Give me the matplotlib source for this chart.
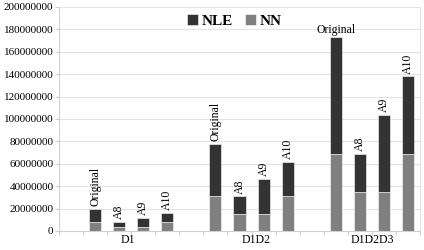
import matplotlib
matplotlib.use("Agg")
import matplotlib.pyplot as plt
import numpy as np

# ---- data ----
groups = ["D1", "D1D2", "D1D2D3"]
variants = ["Original", "A8", "A9", "A10"]
nn_values = [8e6, 4e6, 4e6, 8e6,
             31e6, 15.5e6, 15.5e6, 31e6,
             69e6, 34.5e6, 34.5e6, 69e6]
nle_values = [12e6, 4e6, 8e6, 8e6,
              46.5e6, 15.5e6, 31e6, 31e6,
              104e6, 34.5e6, 69e6, 69e6]
bar_labels = variants * 3
y_ticks = list(range(0, 200000001, 20000000))

# ---- layout / style ----
slots = [1, 2, 3, 4, 6, 7, 8, 9, 11, 12, 13, 14]   # slot index of each bar
group_label_pos = [2.85, 8.2, 13.0]
label_rot = [90] * 8 + [0, 90, 90, 90]
c_nle = "#333333"
c_nn = "#808080"
grid_c = "#e3e3e3"
font = "Liberation Serif"

plt.rcParams["font.family"] = [font, "DejaVu Serif"]

fig = plt.figure(figsize=(4.24, 2.5), dpi=100)
ax = fig.add_axes([59 / 424, 1 - 231 / 250, (420 - 59) / 424, (231 - 7) / 250])

x = np.array(slots) + 0.5
nn = np.array(nn_values)
nle = np.array(nle_values)
ax.bar(x, nn, width=0.5, color=c_nn, edgecolor="white", linewidth=0.4, label="NN", zorder=2)
ax.bar(x, nle, width=0.5, bottom=nn, color=c_nle, edgecolor="white", linewidth=0.4, label="NLE", zorder=2)

total = nn + nle
for xi, t, lab, rot in zip(x, total, bar_labels, label_rot):
    if rot == 90:
        ax.annotate(lab, (xi, t), xytext=(0, 2), textcoords="offset points",
                    rotation=90, ha="center", va="bottom", fontsize=8.5)
    else:
        ax.annotate(lab, (xi, t), xytext=(0, 1), textcoords="offset points",
                    ha="center", va="bottom", fontsize=8.5)

ax.set_xlim(0, 15)
ax.set_ylim(0, 200000000)
ax.set_yticks(y_ticks)
ax.set_yticklabels([str(v) for v in y_ticks], fontsize=8)
ax.set_xticks(range(0, 16))
ax.set_xticklabels([])
ax.tick_params(axis="x", length=3, color="#d0d0d0", width=0.8)
ax.tick_params(axis="y", length=3, color="#d0d0d0", width=0.8, pad=1)
for gx, g in zip(group_label_pos, groups):
    ax.text(gx, -3.0e6, g, ha="center", va="top", fontsize=8.5)

ax.yaxis.grid(True, color=grid_c, linewidth=0.8, zorder=0)
ax.set_axisbelow(True)
ax.spines["top"].set_visible(False)
ax.spines["left"].set_color("#d0d0d0")
ax.spines["right"].set_color("#e3e3e3")
ax.spines["bottom"].set_color("#d0d0d0")
for s in ax.spines.values():
    s.set_linewidth(0.8)

h, l = ax.get_legend_handles_labels()
leg = ax.legend(h[::-1], l[::-1], loc="upper left", bbox_to_anchor=(0.316, 1.03),
                ncol=2, frameon=False, handlelength=0.75, handleheight=0.75,
                handletextpad=0.2, columnspacing=0.8,
                prop={"family": font, "weight": "bold", "size": 11})

fig.savefig("out.png", dpi=100)
